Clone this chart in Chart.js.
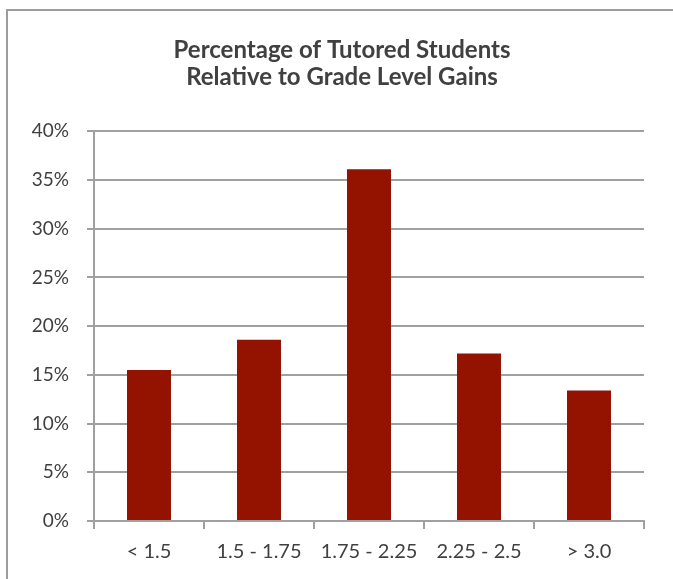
<!DOCTYPE html>
<html>
<head>
<meta charset="utf-8">
<script src="https://cdn.jsdelivr.net/npm/chart.js@4"></script>
<style>
  html, body { margin: 0; padding: 0; background: #fff; }
  #wrap { position: relative; width: 673px; height: 579px; overflow: hidden; }
  #frame {
    position: absolute; left: 6px; top: 9px; width: 800px; height: 700px;
    border-left: 2px solid #9c9c9c; border-top: 2px solid #9c9c9c;
  }
  #gradeChart { position: absolute; left: 0; top: 0; }
</style>
</head>
<body>
<div id="wrap">
  <div id="frame"></div>
  <canvas id="gradeChart" width="673" height="579"></canvas>
</div>
<script>
// Datos
const categorias = ['< 1.5', '1.5 - 1.75', '1.75 - 2.25', '2.25 - 2.5', '> 3.0'];
const porcentajes = [15.5, 18.6, 36.1, 17.2, 13.4];
const tituloLineas = ['Percentage of Tutored Students', 'Relative to Grade Level Gains'];

const gris = '#a0a0a0';
const texto = '#404040';

// El título del original está algo desplazado a la derecha
const centrarTitulo = {
    id: 'centrarTitulo',
    afterLayout: function(chart) {
        const t = chart.titleBlock;
        if (t) {
            t.left += 20;
            t.right += 20;
        }
    }
};

const ctx = document.getElementById('gradeChart');
const gradeChart = new Chart(ctx.getContext('2d'), {
    type: 'bar',
    data: {
        labels: categorias,
        datasets: [{
            label: 'Tutored students',
            data: porcentajes,
            backgroundColor: '#931300',
            borderWidth: 0,
            barPercentage: 0.4,
            categoryPercentage: 1.0
        }]
    },
    plugins: [centrarTitulo],
    options: {
        responsive: false,
        animation: false,
        devicePixelRatio: 1,
        layout: {
            padding: { left: 0, right: 29, top: 0, bottom: 0 }
        },
        plugins: {
            legend: { display: false },
            tooltip: { enabled: false },
            title: {
                display: true,
                text: tituloLineas,
                color: texto,
                font: { family: 'Lato', size: 24, weight: 'bold', lineHeight: 1.15 },
                padding: { top: 36, bottom: 40 }
            }
        },
        scales: {
            y: {
                min: 0,
                max: 40,
                afterFit: function(scale) { scale.width = 94; },
                border: { display: true, color: gris, width: 2 },
                grid: {
                    color: gris,
                    lineWidth: 2,
                    drawTicks: true,
                    tickLength: 7
                },
                ticks: {
                    stepSize: 5,
                    padding: 18,
                    color: texto,
                    font: { family: 'Lato', size: 19 },
                    callback: function(value) { return value + '%'; }
                }
            },
            x: {
                afterFit: function(scale) { scale.height = 58; },
                border: { display: true, color: gris, width: 2 },
                grid: {
                    color: gris,
                    lineWidth: 2,
                    drawOnChartArea: false,
                    drawTicks: true,
                    tickLength: 8
                },
                ticks: {
                    padding: 11,
                    color: texto,
                    font: { family: 'Lato', size: 20 }
                }
            }
        }
    }
});
</script>
</body>
</html>
